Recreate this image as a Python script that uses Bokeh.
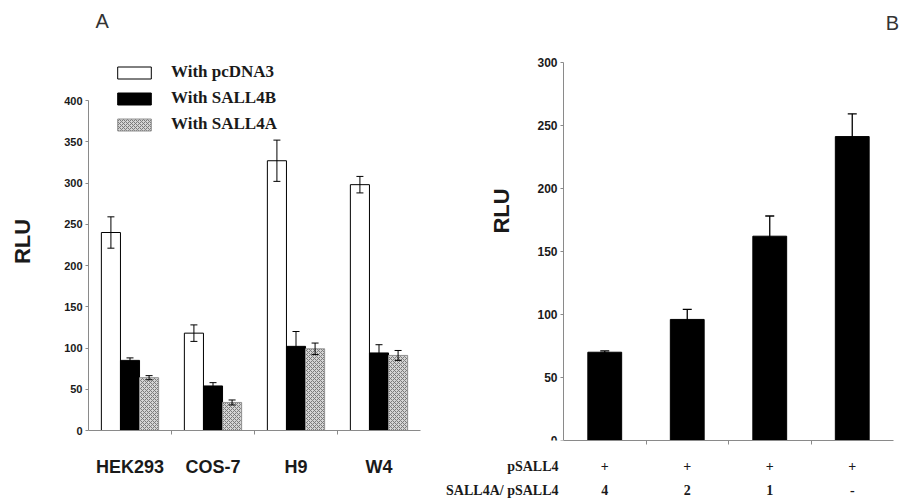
from math import pi
from bokeh.plotting import figure
from bokeh.models import (Range1d, FixedTicker, Whisker, TeeHead, ColumnDataSource,
                          Legend, LegendItem, Label, Title, LinearAxis)
from bokeh.layouts import row
from bokeh.embed import file_html
from bokeh.resources import INLINE

# ---------------- data: panel A ----------------
cell_lines = ["HEK293", "COS-7", "H9", "W4"]
rlu_pcdna3 = [240, 118, 327, 298]
err_pcdna3 = [19, 10, 25, 10]
rlu_sall4b = [85, 54, 102, 94]
err_sall4b = [3, 4, 18, 10]
rlu_sall4a = [64, 34, 99, 91]
err_sall4a = [2.5, 3, 7, 6]
series_names = ["With pcDNA3", "With SALL4B", "With SALL4A"]
left_yticks = [0, 50, 100, 150, 200, 250, 300, 350, 400]

# ---------------- data: panel B ----------------
row_headers = ["pSALL4", "SALL4A/ pSALL4"]
psall4_row = ["+", "+", "+", "+"]
ratio_row = ["4", "2", "1", "-"]
rlu_b = [70, 96, 162, 241]
err_b = [1, 8, 16, 18]
right_yticks = [0, 50, 100, 150, 200, 250, 300]

SANS = "Liberation Sans"
SERIF = "Liberation Serif"
TXT = "#1a1a1a"
AX = "#8a8a8a"


def style_y(ax, ticks, font_size):
    ax.ticker = FixedTicker(ticks=ticks)
    ax.bounds = (ticks[0], ticks[-1])
    ax.axis_line_color = AX
    ax.major_tick_line_color = AX
    ax.major_tick_out = 3
    ax.major_tick_in = 0
    ax.minor_tick_line_color = None
    ax.major_label_text_font = SANS
    ax.major_label_text_font_style = "bold"
    ax.major_label_text_font_size = font_size
    ax.major_label_text_color = TXT
    ax.major_label_standoff = 3


# ================= Panel A =================
n = len(cell_lines)
idx = list(range(n))
p1 = figure(width=430, height=502, x_range=Range1d(-0.5, n - 0.5), y_range=Range1d(0, 458.2),
            output_backend="svg", toolbar_location=None,
            min_border_left=88, min_border_right=10, min_border_top=52, min_border_bottom=72)
p1.frame_align = False
p1.outline_line_color = None
p1.grid.grid_line_color = None

bw = 0.23
offsets = [-bw, 0.0, bw]
vals = [rlu_pcdna3, rlu_sall4b, rlu_sall4a]
errs = [err_pcdna3, err_sall4b, err_sall4a]
styles = [
    dict(fill_color="white", line_color="black"),
    dict(fill_color="black", line_color="black"),
    dict(fill_color="#d4d4d4", line_color="#909090", hatch_pattern="x", hatch_color="#7a7a7a",
         hatch_scale=4, hatch_weight=1),
]
renderers = []
for off, v, e, st in zip(offsets, vals, errs, styles):
    src = ColumnDataSource(dict(x=[i + off for i in idx], top=v,
                                upper=[a + b for a, b in zip(v, e)],
                                lower=[a - b for a, b in zip(v, e)]))
    r = p1.vbar(x="x", top="top", width=bw, bottom=0, source=src, line_width=1, **st)
    renderers.append(r)
    w = Whisker(source=src, base="x", upper="upper", lower="lower", line_color="black",
                line_width=1,
                upper_head=TeeHead(size=7, line_color="black", line_width=1),
                lower_head=TeeHead(size=7, line_color="black", line_width=1))
    w.level = "annotation"
    p1.add_layout(w)

ya = p1.yaxis[0]
style_y(ya, left_yticks, "11px")
ya.axis_label = "RLU"
ya.axis_label_standoff = 26
ya.axis_label_text_font = SANS
ya.axis_label_text_font_style = "bold"
ya.axis_label_text_font_size = "22px"
ya.axis_label_text_color = TXT

xa = p1.xaxis[0]
xa.ticker = FixedTicker(ticks=idx, minor_ticks=[i + 0.5 for i in idx[:-1]])
xa.major_label_overrides = {i: c for i, c in zip(idx, cell_lines)}
xa.axis_line_color = AX
xa.major_tick_line_color = None
xa.major_tick_out = 0
xa.minor_tick_line_color = AX
xa.minor_tick_out = 4
xa.minor_tick_in = 0
xa.major_label_standoff = 22
xa.major_label_text_font = SANS
xa.major_label_text_font_style = "bold"
xa.major_label_text_font_size = "18px"
xa.major_label_text_color = TXT

legend = Legend(items=[LegendItem(label=nm, renderers=[r]) for nm, r in zip(series_names, renderers)],
                location=(25, 296), padding=0, margin=0, spacing=6,
                glyph_width=42, glyph_height=15, label_height=20, label_standoff=16,
                border_line_color=None, background_fill_alpha=0,
                label_text_font=SERIF, label_text_font_style="bold",
                label_text_font_size="17px", label_text_color=TXT)
p1.add_layout(legend)

# spacer title (blank) between frame and the panel letter
p1.add_layout(Title(text=" ", standoff=0, text_font_size="11px"), "above")
p1.add_layout(Title(text="A", align="left", offset=7, vertical_align="top", standoff=10,
                    text_font=SANS, text_font_style="normal", text_font_size="20px",
                    text_color="#333333"), "above")

# ================= Panel B =================
m = len(rlu_b)
idb = list(range(m))
px_per_unit = 82.5
x_start = -0.5 - 103 / px_per_unit     # room at the left for the row headers
x_end = m - 0.5 + 8 / px_per_unit
p2 = figure(width=471, height=502, x_range=Range1d(x_start, x_end), y_range=Range1d(0, 348.9),
            output_backend="svg", toolbar_location=None,
            min_border_left=30, min_border_right=0, min_border_top=0, min_border_bottom=62)
p2.frame_align = False
p2.outline_line_color = None
p2.grid.grid_line_color = None

srcb = ColumnDataSource(dict(x=idb, top=rlu_b,
                             upper=[a + b for a, b in zip(rlu_b, err_b)],
                             lower=[a - b for a, b in zip(rlu_b, err_b)]))
p2.vbar(x="x", top="top", width=0.41, bottom=0, source=srcb, fill_color="black", line_color="black")
wb = Whisker(source=srcb, base="x", upper="upper", lower="lower", line_color="black", line_width=1.3,
             upper_head=TeeHead(size=9, line_color="black", line_width=1.3),
             lower_head=TeeHead(size=9, line_color="black", line_width=1.3))
wb.level = "annotation"
p2.add_layout(wb)

yb = p2.yaxis[0]
style_y(yb, right_yticks, "12px")
yb.fixed_location = -0.5

xb = p2.xaxis[0]
xb.bounds = (-0.5, m - 0.5)
xb.ticker = FixedTicker(ticks=[], minor_ticks=[i + 0.5 for i in idb[:-1]])
xb.axis_line_color = AX
xb.major_tick_line_color = None
xb.major_tick_out = 0
xb.minor_tick_line_color = AX
xb.minor_tick_out = 4
xb.minor_tick_in = 0
xb.major_label_standoff = 0

# header tick positions (right-aligned to just left of the y axis)
header_pos = [-0.872, -1.242]
for hdr, hpos, vals_row, stand in ((row_headers[0], header_pos[0], psall4_row, 14),
                                   (row_headers[1], header_pos[1], ratio_row, 6)):
    ax = LinearAxis(ticker=FixedTicker(ticks=[hpos] + idb),
                    major_label_overrides={**{hpos: hdr}, **{i: t for i, t in zip(idb, vals_row)}})
    ax.axis_line_color = None
    ax.major_tick_line_color = None
    ax.minor_tick_line_color = None
    ax.major_tick_out = 0
    ax.minor_tick_out = 0
    ax.major_label_standoff = stand
    ax.major_label_text_font = SERIF
    ax.major_label_text_font_style = "bold"
    ax.major_label_text_font_size = "14px"
    ax.major_label_text_color = TXT
    p2.add_layout(ax, "below")

p2.add_layout(Label(x=432, y=418, x_units="screen", y_units="screen", text="B",
                    text_font=SANS, text_font_size="20px", text_color="#333333",
                    text_align="center", text_baseline="middle"))
p2.add_layout(Label(x=41, y=229.5, x_units="screen", y_units="screen", text="RLU", angle=pi / 2,
                    text_font=SANS, text_font_style="bold", text_font_size="22px", text_color=TXT,
                    text_align="center", text_baseline="middle"))

layout = row(p1, p2, spacing=0)
open("out.html", "w").write(file_html(layout, INLINE))
